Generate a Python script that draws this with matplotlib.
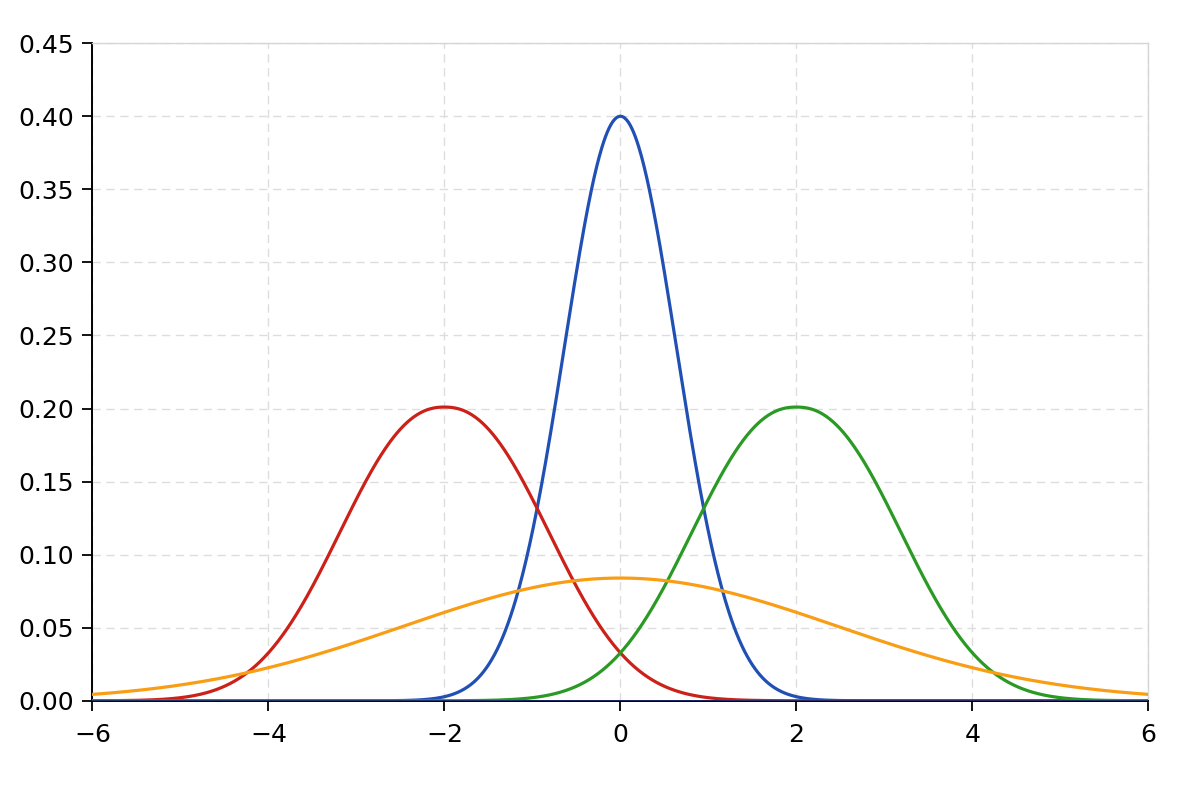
import numpy as np
import matplotlib
matplotlib.use("Agg")
import matplotlib.pyplot as plt

# Curve parameters: peak height, centre, width, shape exponent
names = ["blue", "red", "green", "orange"]
peaks = [0.400, 0.201, 0.201, 0.084]
centers = [0.0, -2.0, 2.0, 0.0]
widths = [0.635, 1.539, 1.539, 2.47]
shapes = [2.0, 2.27, 2.27, 2.0]
colors = ["#2150b5", "#cc2119", "#2a9a24", "#f99d14"]

x_ticks = [-6, -4, -2, 0, 2, 4, 6]
y_ticks = [0.00, 0.05, 0.10, 0.15, 0.20, 0.25, 0.30, 0.35, 0.40, 0.45]

x = np.linspace(-6, 6, 1201)

fig = plt.figure(figsize=(12, 8), dpi=100)
ax = fig.add_axes([0.077, 0.124, 0.880, 0.822])

for pk, c0, w, p, col in zip(peaks, centers, widths, shapes, colors):
    if p == 2.0:
        # Gaussian: width is sigma
        y = pk * np.exp(-0.5 * ((x - c0) / w) ** 2)
    else:
        y = pk * np.exp(-np.abs((x - c0) / w) ** p)
    ax.plot(x, y, color=col, lw=2.3, zorder=3)

ax.axhline(0, color="#1a2a6c", lw=2.0, zorder=4)

ax.set_xlim(-6, 6)
ax.set_ylim(0, 0.45)
ax.set_xticks(x_ticks)
ax.set_xticklabels([f"{t}".replace("-", "\u2212") for t in x_ticks])
ax.set_yticks(y_ticks)
ax.set_yticklabels([f"{t:.2f}" for t in y_ticks])
ax.tick_params(labelsize=18, length=7, width=1.3, direction="out", pad=6)
ax.tick_params(axis="x", pad=9)

ax.grid(True, color="#dddddd", linestyle=(0, (6, 4)), lw=1.0, zorder=0)
ax.set_axisbelow(True)

for side in ["top", "right"]:
    ax.spines[side].set_color("#d5d5d5")
    ax.spines[side].set_linewidth(1.0)
for side in ["left", "bottom"]:
    ax.spines[side].set_color("black")
    ax.spines[side].set_linewidth(1.4)

fig.savefig("out.png", dpi=100, facecolor="white")
